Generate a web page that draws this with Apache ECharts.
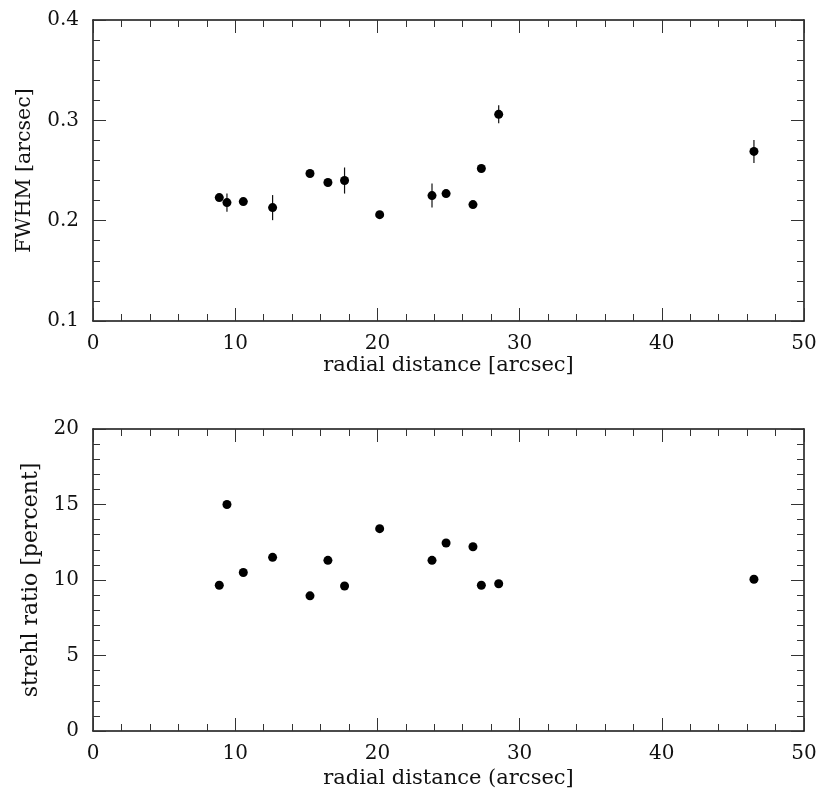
<html lang="en">
<head>
    <meta charset="UTF-8">
    <title>FWHM and Strehl ratio</title>
    <script type="text/javascript" src="https://cdn.jsdelivr.net/npm/echarts@6/dist/echarts.min.js"></script>
    <style>
        html, body { margin: 0; padding: 0; background: #fff; }
        #chart { width: 820px; height: 792px; }
    </style>
</head>
<body>
<div id="chart"></div>
<script>
    // radial distance of each star [arcsec]
    var radius = [8.88, 9.42, 10.57, 12.63, 15.26, 16.52, 17.69, 20.16, 23.84, 24.83, 26.72, 27.31, 28.53, 46.48];
    // FWHM [arcsec] and its error
    var fwhm = [0.223, 0.218, 0.219, 0.213, 0.247, 0.238, 0.240, 0.206, 0.225, 0.227, 0.216, 0.252, 0.306, 0.269];
    var fwhmErr = [0.003, 0.009, 0.003, 0.0125, 0.003, 0.003, 0.013, 0.003, 0.012, 0.003, 0.003, 0.003, 0.009, 0.0115];
    // strehl ratio [percent]
    var strehl = [9.65, 15.0, 10.5, 11.5, 8.95, 11.3, 9.6, 13.4, 11.3, 12.45, 12.2, 9.65, 9.75, 10.05];

    var font = 'DejaVu Serif';
    var ink = '#111';

    var chart = echarts.init(document.getElementById('chart'), null, {renderer: 'canvas'});

    function frameAxis(grid, pos, min, max, interval, opts) {
        var ax = {
            type: 'value',
            gridIndex: grid,
            position: pos,
            min: min,
            max: max,
            interval: interval,
            axisLine: {show: true, onZero: false, lineStyle: {color: '#111', width: 1.5}},
            axisTick: {show: true, inside: true, length: 13, lineStyle: {color: '#333', width: 1}},
            minorTick: {show: true, splitNumber: 5, length: 7, lineStyle: {color: '#333', width: 1}},
            splitLine: {show: false},
            minorSplitLine: {show: false},
            axisLabel: {show: false}
        };
        for (var k in opts) ax[k] = opts[k];
        return ax;
    }

    var xLabel = {show: true, margin: 13, color: ink, fontFamily: font, fontSize: 20};
    var yLabel = {show: true, margin: 14, color: ink, fontFamily: font, fontSize: 20};

    var scatterPts = radius.map(function (r, i) { return [r, fwhm[i]]; });
    var errPts = radius.map(function (r, i) { return [r, fwhm[i], fwhmErr[i]]; });
    var strehlPts = radius.map(function (r, i) { return [r, strehl[i]]; });

    var option = {
        animation: false,
        backgroundColor: '#fff',
        grid: [
            {left: 93, top: 20, width: 711, height: 301},
            {left: 93, top: 429, width: 711, height: 302}
        ],
        xAxis: [
            frameAxis(0, 'bottom', 0, 50, 10, {
                axisLabel: xLabel,
                name: 'radial distance [arcsec]', nameLocation: 'middle', nameGap: 30,
                nameTextStyle: {color: ink, fontFamily: font, fontSize: 21}
            }),
            frameAxis(0, 'top', 0, 50, 10, {}),
            frameAxis(1, 'bottom', 0, 50, 10, {
                axisLabel: xLabel,
                name: 'radial distance (arcsec]', nameLocation: 'middle', nameGap: 37,
                nameTextStyle: {color: ink, fontFamily: font, fontSize: 21}
            }),
            frameAxis(1, 'top', 0, 50, 10, {})
        ],
        yAxis: [
            frameAxis(0, 'left', 0.1, 0.4, 0.1, {
                axisLabel: {show: true, margin: 14, color: ink, fontFamily: font, fontSize: 20,
                    formatter: function (v) { return v.toFixed(1); }},
                name: 'FWHM [arcsec]', nameLocation: 'middle', nameGap: 58,
                nameTextStyle: {color: ink, fontFamily: font, fontSize: 20.5}
            }),
            frameAxis(0, 'right', 0.1, 0.4, 0.1, {}),
            frameAxis(1, 'left', 0, 20, 5, {
                axisLabel: yLabel,
                name: 'strehl ratio [percent]', nameLocation: 'middle', nameGap: 50,
                nameTextStyle: {color: ink, fontFamily: font, fontSize: 22}
            }),
            frameAxis(1, 'right', 0, 20, 5, {})
        ],
        series: [
            {
                type: 'custom',
                xAxisIndex: 0,
                yAxisIndex: 0,
                data: errPts,
                renderItem: function (params, api) {
                    var x = api.value(0), y = api.value(1), e = api.value(2);
                    var lo = api.coord([x, y - e]);
                    var hi = api.coord([x, y + e]);
                    return {
                        type: 'line',
                        shape: {x1: lo[0], y1: lo[1], x2: hi[0], y2: hi[1]},
                        style: {stroke: '#111', lineWidth: 1.2}
                    };
                },
                z: 2
            },
            {
                type: 'scatter',
                xAxisIndex: 0,
                yAxisIndex: 0,
                data: scatterPts,
                symbol: 'circle',
                symbolSize: 9,
                itemStyle: {color: '#000', opacity: 1},
                z: 3
            },
            {
                type: 'scatter',
                xAxisIndex: 2,
                yAxisIndex: 2,
                data: strehlPts,
                symbol: 'circle',
                symbolSize: 9,
                itemStyle: {color: '#000', opacity: 1},
                z: 3
            }
        ]
    };
    chart.setOption(option);
</script>
</body>
</html>
